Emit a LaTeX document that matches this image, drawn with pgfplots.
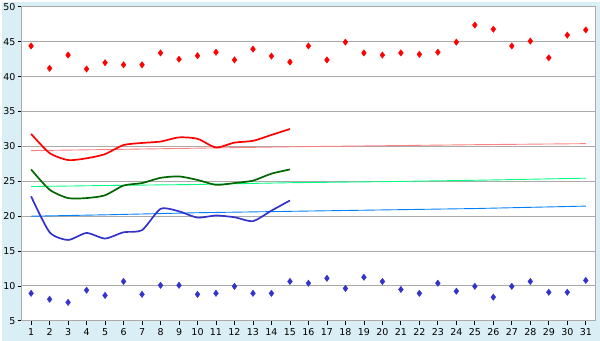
\documentclass[border=0pt]{standalone}
\usepackage{fontspec}
\setmainfont{DejaVu Sans}
\usepackage{pgfplots}
\pgfplotsset{compat=1.18}
\definecolor{bgblue}{HTML}{DAEEF5}
\definecolor{gridgray}{HTML}{AAAAAA}
\definecolor{maxred}{HTML}{FF0000}
\definecolor{normred}{HTML}{FF8080}
\definecolor{avggreen}{HTML}{006600}
\definecolor{normgreen}{HTML}{00FF80}
\definecolor{minblue}{HTML}{3333CC}
\definecolor{normblue}{HTML}{0080FF}
\begin{document}
\begin{tikzpicture}
\fill[bgblue] (0,0) rectangle (600bp,340bp);
\begin{axis}[
  at={(20bp,20bp)}, anchor=south west,
  scale only axis, width=575bp, height=315bp,
  xmin=0.5, xmax=31.5, ymin=5, ymax=50,
  xtick={1,...,31}, ytick={5,10,...,50},
  tick pos=left, tick align=outside,
  major tick length=4bp,
  every tick/.style={black, line width=0.8bp},
  axis line style={gridgray, line width=1bp},
  ymajorgrids, grid style={gridgray, line width=1bp},
  axis background/.style={fill=white},
  tick label style={font=\fontsize{9.5bp}{11bp}\selectfont, black},
  /pgf/number format/assume math mode=true,
  yticklabel style={xshift=1bp},
  clip=false,
]
% normals (thin)
\addplot[normred, line width=0.9bp] coordinates {(1,29.4)(5,29.55)(10,29.75)(15,29.95)(20,30.1)(25,30.25)(31,30.4)};
\addplot[normgreen, line width=0.9bp] coordinates {(1,24.25)(5,24.4)(10,24.55)(15,24.8)(20,24.95)(25,25.15)(31,25.45)};
\addplot[normblue, line width=0.9bp] coordinates {(1,20.0)(5,20.2)(10,20.5)(15,20.7)(20,20.9)(25,21.1)(31,21.45)};
% daily (thick, smoothed)
\addplot[maxred, line width=1.7bp, smooth, tension=0.4] coordinates {
(1,31.8)(2,29.05)(3,28.05)(4,28.3)(5,28.9)(6,30.2)(7,30.5)(8,30.7)(9,31.3)(10,31.1)(11,29.85)(12,30.55)(13,30.8)(14,31.65)(15,32.5)};
\addplot[avggreen, line width=1.7bp, smooth, tension=0.4] coordinates {
(1,26.7)(2,23.8)(3,22.6)(4,22.6)(5,23.0)(6,24.4)(7,24.75)(8,25.5)(9,25.7)(10,25.2)(11,24.5)(12,24.75)(13,25.1)(14,26.1)(15,26.7)};
\addplot[minblue, line width=1.7bp, smooth, tension=0.4] coordinates {
(1,22.85)(2,17.7)(3,16.6)(4,17.6)(5,16.8)(6,17.7)(7,18.0)(8,21.05)(9,20.7)(10,19.8)(11,20.1)(12,19.85)(13,19.3)(14,20.8)(15,22.25)};
% max and min markers
\addplot[only marks, mark=diamond*, mark size=3.2bp, maxred] coordinates {
(1,44.4)(2,41.2)(3,43.1)(4,41.1)(5,42.0)(6,41.7)(7,41.7)(8,43.4)(9,42.5)(10,43.0)
(11,43.5)(12,42.4)(13,43.95)(14,42.95)(15,42.1)(16,44.4)(17,42.4)(18,44.95)(19,43.4)(20,43.1)
(21,43.4)(22,43.2)(23,43.5)(24,44.95)(25,47.4)(26,46.8)(27,44.4)(28,45.1)(29,42.7)(30,45.95)(31,46.7)};
\addplot[only marks, mark=diamond*, mark size=3.2bp, minblue] coordinates {
(1,8.95)(2,8.1)(3,7.65)(4,9.4)(5,8.65)(6,10.65)(7,8.8)(8,10.1)(9,10.1)(10,8.8)
(11,8.95)(12,9.95)(13,8.95)(14,8.95)(15,10.65)(16,10.4)(17,11.1)(18,9.65)(19,11.25)(20,10.65)
(21,9.5)(22,8.95)(23,10.4)(24,9.25)(25,9.95)(26,8.4)(27,9.95)(28,10.65)(29,9.1)(30,9.1)(31,10.8)};
\end{axis}
\end{tikzpicture}
\end{document}
